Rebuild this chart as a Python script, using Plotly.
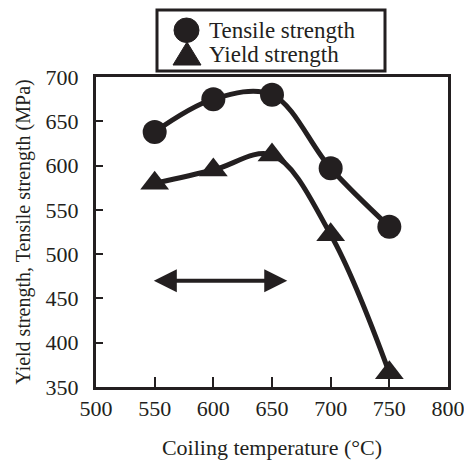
import plotly.graph_objects as go

temps = [550, 600, 650, 700, 750]
tensile = [638, 675, 680, 597, 531]
yield_s = [580, 595, 612, 522, 366]
x_ticks = [500, 550, 600, 650, 700, 750, 800]
y_ticks = [350, 400, 450, 500, 550, 600, 650, 700]
arrow_range = [548, 663]
arrow_level = 470
legend_labels = ["Tensile strength", "Yield strength"]

font_family = "Liberation Serif, Times New Roman, serif"
ink = "#231f20"

# plot area in pixels (for legend placement helpers)
L, R, T, B = 96, 448, 77, 387
W, H = 464, 461


def px(x):
    return (x - L) / (R - L)


def py(y):
    return (B - y) / (B - T)


fig = go.Figure()
fig.add_trace(go.Scatter(
    x=temps, y=tensile, mode="lines+markers", name=legend_labels[0],
    line=dict(color=ink, width=5, shape="spline", smoothing=1.0),
    marker=dict(symbol="circle", size=24, color=ink),
    showlegend=False,
))
fig.add_trace(go.Scatter(
    x=temps, y=yield_s, mode="lines+markers", name=legend_labels[1],
    line=dict(color=ink, width=5, shape="spline", smoothing=1.0),
    marker=dict(symbol="triangle-up", size=25, color=ink),
    showlegend=False,
))

fig.add_annotation(
    x=arrow_range[1], y=arrow_level, ax=arrow_range[0], ay=arrow_level,
    xref="x", yref="y", axref="x", ayref="y", text="",
    showarrow=True, arrowhead=2, arrowside="end+start",
    arrowwidth=4, arrowsize=1.15, arrowcolor=ink,
)

# legend box drawn manually
shapes = [
    dict(type="rect", xref="paper", yref="paper",
         x0=px(157), x1=px(385), y0=py(71), y1=py(10),
         line=dict(color=ink, width=3), fillcolor="white", layer="above"),
    dict(type="circle", xref="paper", yref="paper",
         x0=px(174), x1=px(199), y0=py(42.5), y1=py(18),
         line=dict(color=ink, width=1), fillcolor=ink, layer="above"),
    dict(type="path", xref="paper", yref="paper",
         path=f"M {px(173)} {py(65)} L {px(201)} {py(65)} L {px(187)} {py(42)} Z",
         line=dict(color=ink, width=1), fillcolor=ink, layer="above"),
]
for s in shapes:
    fig.add_shape(**s)

for label, yy in zip(legend_labels, [31, 55]):
    fig.add_annotation(
        x=px(207), y=py(yy), xref="paper", yref="paper", text=label,
        showarrow=False, xanchor="left", yanchor="middle",
        font=dict(family=font_family, size=23, color=ink),
    )

fig.update_layout(
    width=W, height=H,
    margin=dict(l=L, r=W - R, t=T, b=H - B),
    paper_bgcolor="white", plot_bgcolor="white",
    font=dict(family=font_family, size=22, color=ink),
    showlegend=False,
)
fig.update_xaxes(
    range=[500, 800], tickvals=x_ticks, ticktext=[str(v) for v in x_ticks],
    showgrid=False, zeroline=False, showline=True, linecolor=ink, linewidth=3,
    mirror=True, ticks="inside", ticklen=10, tickwidth=2, tickcolor=ink,
    tickfont=dict(family=font_family, size=22, color=ink),
    automargin=False, ticklabeloverflow="allow",
    title=dict(text="Coiling temperature (°C)", standoff=20,
               font=dict(family=font_family, size=22, color=ink)),
)
fig.update_yaxes(
    range=[350, 700], tickvals=y_ticks, ticktext=[str(v) for v in y_ticks],
    showgrid=False, zeroline=False, showline=True, linecolor=ink, linewidth=3,
    mirror=True, ticks="inside", ticklen=7, tickwidth=2, tickcolor=ink,
    tickfont=dict(family=font_family, size=22, color=ink),
    ticklabelstandoff=10, automargin=False, ticklabeloverflow="allow",
    title=dict(text="Yield strength, Tensile strength (MPa)", standoff=10,
               font=dict(family=font_family, size=20, color=ink)),
)

fig.write_html("out.html")
